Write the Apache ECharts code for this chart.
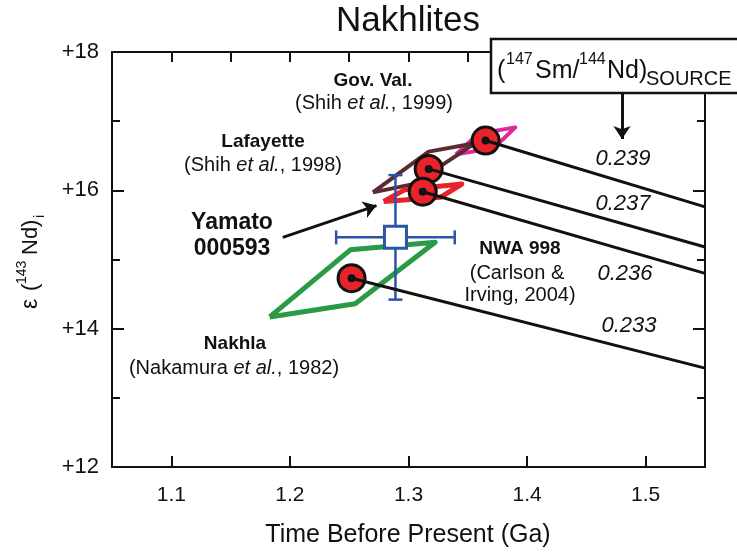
<!DOCTYPE html>
<html><head><meta charset="utf-8">
<script src="https://cdn.jsdelivr.net/npm/echarts@6/dist/echarts.min.js"></script>
<style>html,body{margin:0;padding:0;background:#fff}#c{width:737px;height:552px}</style>
</head><body><div id="c"></div>
<script>
// ---------- data ----------
const xRange = [1.05, 1.55];
const yRange = [12, 18];
const xTickLabels = [1.1, 1.2, 1.3, 1.4, 1.5];
const xTopTicks = [1.1, 1.15, 1.2, 1.25, 1.3, 1.35, 1.4, 1.45, 1.5];

const meteorites = ['Gov. Val.', 'Lafayette', 'NWA 998', 'Nakhla'];
const sourceRatios = ['0.239', '0.237', '0.236', '0.233'];
const ageGa = [1.365, 1.317, 1.312, 1.252];
const epsNd = [16.72, 16.31, 15.98, 14.73];
const evolutionEndAge = 1.55;
const evolutionEndEps = [15.76, 15.18, 14.80, 13.43];

const govValPoly = [[1.340, 16.52], [1.359, 16.82], [1.390, 16.91], [1.372, 16.61], [1.340, 16.52]];
const lafayettePoly = [[1.270, 15.97], [1.317, 16.56], [1.356, 16.68], [1.304, 16.09], [1.270, 15.97]];
const nwa998Poly = [[1.279, 15.84], [1.297, 16.01], [1.345, 16.09], [1.327, 15.90], [1.279, 15.84]];
const nakhlaPoly = [[1.183, 14.17], [1.251, 15.14], [1.3225, 15.25], [1.255, 14.36], [1.183, 14.17]];

const yamato = [1.289, 15.32];
const yamatoErr = [0.05, 0.9];
const yamatoArrow = [[1.194, 15.32], [1.273, 15.78]];

// ---------- styles ----------
const FF = '"Liberation Sans", Arial, Helvetica, sans-serif';
const INK = '#111';
const BLUE = '#2b55a5';
const polyColors = ['#e0269b', '#5c2a33', '#e8232a', '#2a9a44'];
const polys = [govValPoly, lafayettePoly, nwa998Poly, nakhlaPoly];
const polyWidths = [4, 4, 5, 5];

function txt(x, y, text, size, opts) {
  opts = opts || {};
  const st = {
    text: text, x: 0, y: 0,
    fontSize: size, fontFamily: FF,
    fontWeight: opts.bold ? 'bold' : 'normal',
    fontStyle: opts.italic ? 'italic' : 'normal',
    fill: INK,
    align: opts.align || 'center', verticalAlign: 'middle',
    textAlign: opts.align || 'center', textVerticalAlign: 'middle'
  };
  if (opts.rich) st.rich = opts.rich;
  return { type: 'text', x: x, y: y, z: 100, silent: true, style: st };
}
const italicRich = { i: { fontStyle: 'italic', fontSize: 20, fontFamily: FF, fill: INK } };

const series = [];
polys.forEach((p, i) => {
  series.push({
    type: 'line', data: p, symbol: 'none', z: 2, silent: true,
    lineStyle: { color: polyColors[i], width: polyWidths[i], join: 'round' }
  });
});
series.push({
  type: 'custom', z: 3, silent: true,
  data: [[yamato[0], yamato[1], yamatoErr[0], yamatoErr[1]]],
  renderItem: function (params, api) {
    const x = api.value(0), y = api.value(1), ex = api.value(2), ey = api.value(3);
    const l = api.coord([x - ex, y]), r = api.coord([x + ex, y]);
    const t = api.coord([x, y + ey]), b = api.coord([x, y - ey]);
    const cap = 7;
    const st = { stroke: BLUE, lineWidth: 2.5 };
    const line = (x1, y1, x2, y2) => ({ type: 'line', shape: { x1, y1, x2, y2 }, style: st });
    return { type: 'group', children: [
      line(l[0], l[1], r[0], r[1]),
      line(t[0], t[1], b[0], b[1]),
      line(l[0], l[1] - cap, l[0], l[1] + cap),
      line(r[0], r[1] - cap, r[0], r[1] + cap),
      line(t[0] - cap, t[1], t[0] + cap, t[1]),
      line(b[0] - cap, b[1], b[0] + cap, b[1])
    ] };
  }
});
series.push({
  type: 'scatter', z: 4, silent: true,
  data: ageGa.map((a, i) => [a, epsNd[i]]),
  symbol: 'circle', symbolSize: 27,
  itemStyle: { color: '#e8232a', borderColor: INK, borderWidth: 3, opacity: 1 }
});
ageGa.forEach((a, i) => {
  series.push({
    type: 'line', z: 5, silent: true, showSymbol: true,
    data: [
      { value: [a, epsNd[i]], symbol: 'circle', symbolSize: 8 },
      { value: [evolutionEndAge, evolutionEndEps[i]], symbol: 'none' }
    ],
    itemStyle: { color: INK, borderWidth: 0 },
    lineStyle: { color: INK, width: 3 }
  });
});
series.push({
  type: 'scatter', z: 6, silent: true,
  data: [yamato],
  symbol: 'rect', symbolSize: 22,
  itemStyle: { color: '#fff', borderColor: BLUE, borderWidth: 3, opacity: 1 },
  markLine: {
    silent: true, animation: false,
    symbol: ['none', 'arrow'], symbolSize: 13,
    label: { show: false },
    lineStyle: { color: INK, width: 3, type: 'solid' },
    emphasis: { disabled: true },
    data: [
      [{ coord: yamatoArrow[0] }, { coord: yamatoArrow[1] }],
      [{ x: 622, y: 94 }, { x: 622, y: 139 }]
    ]
  }
});

const axisLineStyle = { show: true, onZero: false, lineStyle: { color: INK, width: 2 } };
const option = {
  animation: false,
  backgroundColor: '#fff',
  grid: { left: 112, right: 32, top: 52, bottom: 85, containLabel: false, outerBoundsMode: 'none' },
  xAxis: [
    {
      type: 'value', position: 'bottom', min: xRange[0], max: xRange[1],
      axisLine: axisLineStyle, splitLine: { show: false },
      axisTick: { show: true, inside: true, length: 11, customValues: xTickLabels, lineStyle: { color: INK, width: 2 } },
      axisLabel: { show: true, customValues: xTickLabels, formatter: v => v.toFixed(1), margin: 18,
        fontSize: 21, fontFamily: FF, color: INK }
    },
    {
      type: 'value', position: 'top', min: xRange[0], max: xRange[1],
      axisLine: axisLineStyle, splitLine: { show: false },
      axisTick: { show: true, inside: true, length: 10, customValues: xTopTicks, lineStyle: { color: INK, width: 2 } },
      axisLabel: { show: false }
    }
  ],
  yAxis: [
    {
      type: 'value', position: 'left', min: yRange[0], max: yRange[1], interval: 2,
      axisLine: axisLineStyle, splitLine: { show: false },
      axisTick: { show: true, inside: true, length: 12, lineStyle: { color: INK, width: 2 } },
      minorTick: { show: true, splitNumber: 2, length: 8, lineStyle: { color: INK, width: 2 } },
      minorSplitLine: { show: false },
      axisLabel: { formatter: v => '+' + v, margin: 13, fontSize: 22, fontFamily: FF, color: INK }
    },
    {
      type: 'value', position: 'right', min: yRange[0], max: yRange[1], interval: 2,
      axisLine: axisLineStyle, splitLine: { show: false },
      axisTick: { show: true, inside: true, length: 12, lineStyle: { color: INK, width: 2 } },
      minorTick: { show: true, splitNumber: 2, length: 8, lineStyle: { color: INK, width: 2 } },
      minorSplitLine: { show: false },
      axisLabel: { show: false }
    }
  ],
  series: series,
  graphic: { elements: [
    // title & axis names
    txt(408, 21, 'Nakhlites', 35),
    txt(408, 535, 'Time Before Present (Ga)', 25),
    { type: 'group', x: 31, y: 255, rotation: Math.PI / 2, silent: true, children: [
      txt(-54, 0, 'ε', 23, { align: 'left' }),
      txt(-36, 0, '(', 22, { align: 'left' }),
      txt(-29, -9, '143', 14, { align: 'left' }),
      txt(0, 0, 'Nd)', 22, { align: 'left' }),
      txt(37, 9, 'i', 14, { align: 'left' })
    ] },
    // source box
    { type: 'rect', z: 99, silent: true, shape: { x: 491, y: 39, width: 270, height: 54 },
      style: { fill: '#fff', stroke: INK, lineWidth: 2.5 } },
    txt(497, 71, '(', 25, { align: 'left' }),
    txt(506, 60, '147', 16, { align: 'left' }),
    txt(535, 71, 'Sm/', 25, { align: 'left' }),
    txt(579, 60, '144', 16, { align: 'left' }),
    txt(607, 71, 'Nd)', 25, { align: 'left' }),
    txt(646, 79, 'SOURCE', 20, { align: 'left' }),
    // meteorite labels
    txt(373, 81, meteorites[0], 19, { bold: true }),
    txt(374, 103, '(Shih {i|et al.}, 1999)', 20, { rich: italicRich }),
    txt(263, 142, meteorites[1], 19, { bold: true }),
    txt(263, 165, '(Shih {i|et al.}, 1998)', 20, { rich: italicRich }),
    txt(232, 223, 'Yamato', 23, { bold: true }),
    txt(232, 249, '000593', 23, { bold: true }),
    txt(520, 249, meteorites[2], 19, { bold: true }),
    txt(517, 273, '(Carlson &', 20),
    txt(520, 295, 'Irving, 2004)', 20),
    txt(235, 344, meteorites[3], 19, { bold: true }),
    txt(234, 368, '(Nakamura {i|et al.}, 1982)', 20, { rich: italicRich }),
    // source ratio labels
    txt(623, 159, sourceRatios[0], 22, { italic: true }),
    txt(623, 204, sourceRatios[1], 22, { italic: true }),
    txt(625, 274, sourceRatios[2], 22, { italic: true }),
    txt(629, 326, sourceRatios[3], 22, { italic: true })
  ] }
};
const chart = echarts.init(document.getElementById('c'), null, { renderer: 'canvas' });
chart.setOption(option);
</script>
</body></html>
